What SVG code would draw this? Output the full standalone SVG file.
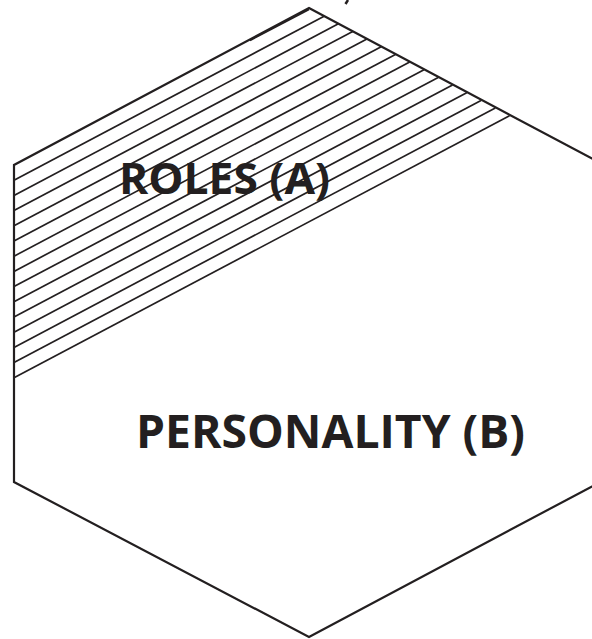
<svg xmlns="http://www.w3.org/2000/svg" width="592" height="639" viewBox="0 0 592 639">
<style>
.edge{fill:none;stroke:#231f20;stroke-width:2.2;stroke-linejoin:miter}
.hatch{stroke:#231f20;stroke-width:1.7;fill:none}
.lbl{font-family:"Open Sans","Liberation Sans",sans-serif;font-weight:700;fill:#231f20}
</style>
<rect width="592" height="639" fill="#ffffff"/>
<g id="hatching" class="hatch">
<line x1="14" y1="180.2" x2="324.1" y2="16.2"/>
<line x1="14" y1="195.4" x2="338.4" y2="23.8"/>
<line x1="14" y1="210.6" x2="352.7" y2="31.4"/>
<line x1="14" y1="225.8" x2="366.9" y2="39.1"/>
<line x1="14" y1="241.0" x2="381.2" y2="46.8"/>
<line x1="14" y1="256.2" x2="395.4" y2="54.4"/>
<line x1="14" y1="271.4" x2="409.7" y2="62.1"/>
<line x1="14" y1="286.6" x2="424.0" y2="69.7"/>
<line x1="14" y1="301.8" x2="438.2" y2="77.4"/>
<line x1="14" y1="317.0" x2="452.5" y2="85.0"/>
<line x1="14" y1="332.2" x2="466.7" y2="92.7"/>
<line x1="14" y1="347.4" x2="481.0" y2="100.4"/>
<line x1="14" y1="362.6" x2="495.3" y2="108.0"/>
<line x1="14" y1="377.8" x2="509.5" y2="115.7"/>
<line x1="250" y1="40.5" x2="309" y2="9.5"/>
</g>
<g id="hexagon">
<polygon class="edge" points="309,8 604,165 604,480 309,637 14,482 14,165"/>
</g>
<path d="M348,0 L345.5,4" stroke="#231f20" stroke-width="2.5" fill="none"/>
<g id="roles">
<text class="lbl" x="119" y="194" font-size="43" textLength="211" lengthAdjust="spacingAndGlyphs">ROLES (A)</text>
</g>
<g id="personality">
<text class="lbl" x="136" y="448" font-size="47" textLength="389" lengthAdjust="spacingAndGlyphs">PERSONALITY (B)</text>
</g>
</svg>
